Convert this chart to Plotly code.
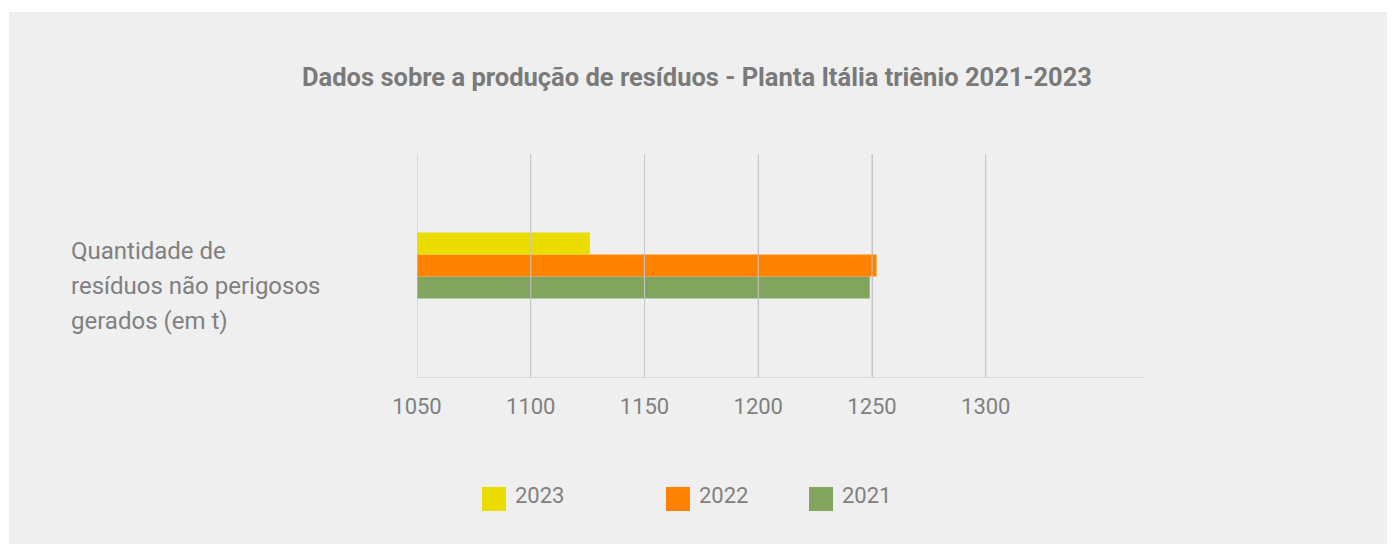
import plotly.graph_objects as go

# ---- data ----
category = ["Quantidade de<br>resíduos não perigosos<br>gerados (em t)"]
years = ["2021", "2022", "2023"]
values_2021 = [1249]
values_2022 = [1252]
values_2023 = [1126]
series_values = [values_2021, values_2022, values_2023]
colors = ["#81A55F", "#FF8300", "#EBDC00"]
tick_values = [1050, 1100, 1150, 1200, 1250, 1300]
x_range = [1050, 1370]
title = "Dados sobre a produção de resíduos - Planta Itália triênio 2021-2023"

# ---- layout geometry (page pixels; the page body adds an 8px offset) ----
OFF = 8
PAGE_W, PAGE_H = 1395, 544
W, H = PAGE_W - OFF, PAGE_H - OFF
L, R, T, B = 417 - OFF, 1145 - OFF, 154 - OFF, 377 - OFF


def px(x):
    return (x - OFF - L) / (R - L)


def py(y):
    return (B - (y - OFF)) / (B - T)


TEXT = "#808080"
FONT = "Roboto, 'Noto Sans', sans-serif"

fig = go.Figure()
for name, vals, col in zip(years, series_values, colors):
    fig.add_trace(go.Bar(
        y=category, x=vals, name=name, orientation="h",
        marker=dict(color=col, line=dict(width=0)),
        showlegend=False,
    ))

shapes = [
    # grey panel
    dict(type="rect", xref="paper", yref="paper",
         x0=px(9), x1=px(PAGE_W + 20), y0=py(12), y1=py(PAGE_H + 20),
         fillcolor="#EFEFEF", line=dict(width=0), layer="below"),
]
# gridlines drawn above the bars
for tv in tick_values:
    shapes.append(dict(type="line", xref="x", yref="paper", x0=tv, x1=tv,
                       y0=0, y1=1, line=dict(color="#C6C6C6", width=1),
                       layer="above"))

annotations = []
lines = category[0].split("<br>")
for k, line in enumerate(lines):
    annotations.append(dict(text=line, xref="paper", yref="y", x=px(69), y=category[0],
                            xanchor="left", yanchor="middle", align="left", showarrow=False,
                            yshift=-20 + 35 * (1 - k),
                            font=dict(family=FONT, size=24, color=TEXT)))

# manual legend (order 2023, 2022, 2021)
legend_x = [482, 666, 809]
for xpos, i in zip(legend_x, [2, 1, 0]):
    shapes.append(dict(type="rect", xref="paper", yref="paper",
                       x0=px(xpos), x1=px(xpos + 24), y0=py(511), y1=py(487),
                       fillcolor=colors[i], line=dict(width=0)))
    annotations.append(dict(text=years[i], xref="paper", yref="paper",
                            x=px(xpos + 31), y=py(495), xanchor="left",
                            yanchor="middle", showarrow=False,
                            font=dict(family=FONT, size=22, color=TEXT)))

fig.update_layout(
    width=W, height=H,
    margin=dict(l=L, r=W - R, t=T, b=H - B, pad=0),
    paper_bgcolor="white",
    plot_bgcolor="rgba(0,0,0,0)",
    barmode="group", bargap=0.704, bargroupgap=0,
    title=dict(text="<b>" + title + "</b>", x=(697 - OFF) / W, xref="container",
               xanchor="center", y=1 - (77 - OFF) / H, yanchor="middle",
               font=dict(family=FONT, size=25.5, color="#7A7A7A")),
    xaxis=dict(range=x_range, tickvals=tick_values, showgrid=True,
               gridcolor="#C6C6C6", gridwidth=1, zeroline=False,
               showline=True, linecolor="#D9D9D9", linewidth=1,
               ticks="", ticklabelstandoff=10,
               tickfont=dict(family=FONT, size=22, color=TEXT)),
    yaxis=dict(type="category", range=[-0.5, 0.5], showticklabels=False,
               showgrid=False, zeroline=False, showline=False),
    shapes=shapes, annotations=annotations,
    showlegend=False,
)

fig.write_html("out.html")
